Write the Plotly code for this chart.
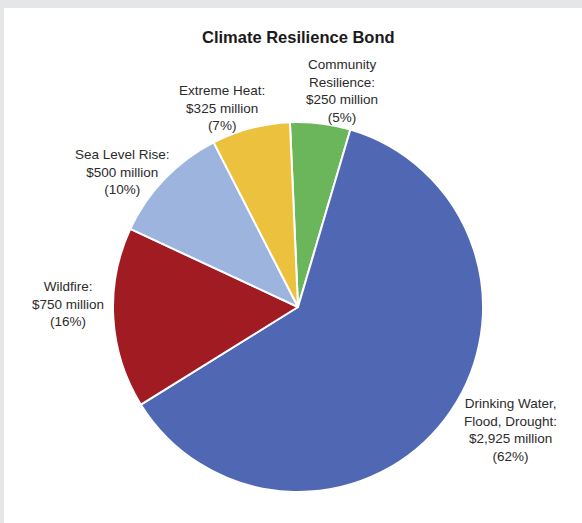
import plotly.graph_objects as go

W, H = 582, 523

categories = ["Community Resilience", "Drinking Water, Flood, Drought", "Wildfire",
              "Sea Level Rise", "Extreme Heat"]
amounts_musd = [250, 2925, 750, 500, 325]
pct_labels = ["5%", "62%", "16%", "10%", "7%"]
label_texts = [
    "Community<br>Resilience:<br>$250 million<br>(5%)",
    "Drinking Water,<br>Flood, Drought:<br>$2,925 million<br>(62%)",
    "Wildfire:<br>$750 million<br>(16%)",
    "Sea Level Rise:<br>$500 million<br>(10%)",
    "Extreme Heat:<br>$325 million<br>(7%)",
]
colors = ["#6BB65A", "#5067B3", "#A11C22", "#9DB4DE", "#ECC13D"]

# label centre positions in pixels (x, y from top)
label_pos = [(342, 91), (510, 430), (68, 304), (122, 172), (222, 108)]


def px(x):
    return x / W


def py(y):
    return 1 - y / H


fig = go.Figure()
fig.add_trace(go.Pie(
    labels=categories,
    values=amounts_musd,
    sort=False,
    direction="clockwise",
    rotation=-2.5,
    marker=dict(colors=colors, line=dict(color="white", width=2)),
    textinfo="none",
    hoverinfo="label+value+percent",
    showlegend=False,
    domain=dict(x=[px(113), px(483)], y=[py(492), py(122)]),
))

for txt, (x, y) in zip(label_texts, label_pos):
    fig.add_annotation(
        x=px(x), y=py(y), xref="paper", yref="paper",
        text=txt, showarrow=False, align="center",
        xanchor="center", yanchor="middle",
        font=dict(family="Liberation Sans, Arial, sans-serif", size=13.5, color="#2b2b2b"),
    )

fig.add_annotation(
    x=px(298), y=py(37), xref="paper", yref="paper",
    text="<b>Climate Resilience Bond</b>", showarrow=False,
    xanchor="center", yanchor="middle",
    font=dict(family="Liberation Sans, Arial, sans-serif", size=16.5, color="#1a1a1a"),
)

# white card on grey page background
fig.add_shape(type="rect", xref="paper", yref="paper",
              x0=px(4), x1=1.01, y0=-0.01, y1=py(8),
              fillcolor="white", line=dict(width=0), layer="below")

fig.update_layout(
    width=W, height=H,
    margin=dict(l=0, r=0, t=0, b=0),
    paper_bgcolor="#E5E6E8",
    plot_bgcolor="white",
)

fig.write_html(
    "out.html",
    config={"displayModeBar": False},
    post_script="document.body.style.margin='0';document.body.style.overflow='hidden';",
)
